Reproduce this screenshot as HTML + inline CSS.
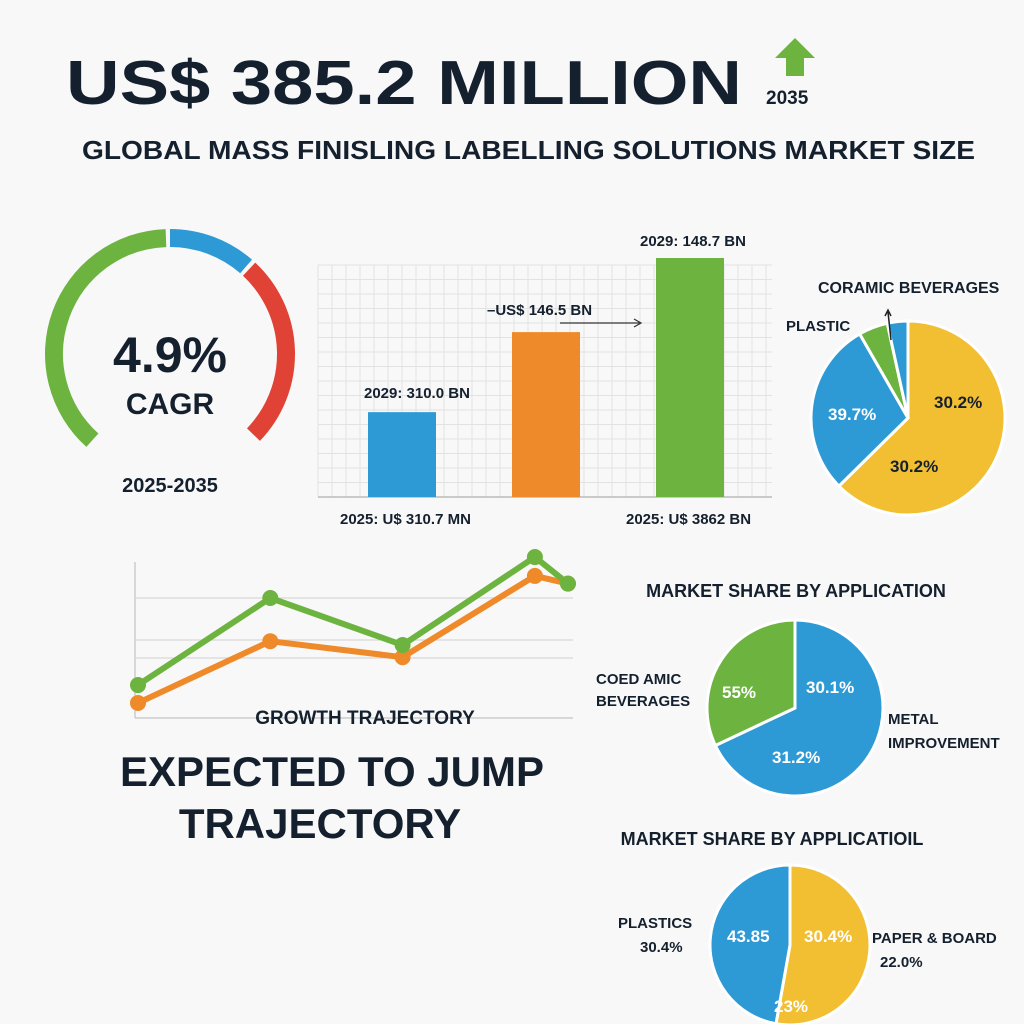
<!DOCTYPE html>
<html><head><meta charset="utf-8"><style>
body{margin:0;background:#f8f8f8;}
svg{display:block;font-family:"Liberation Sans",sans-serif;font-weight:bold;}
</style></head><body>
<svg id="c" width="1024" height="1024" viewBox="0 0 1024 1024">
<rect width="1024" height="1024" fill="#f8f8f8"/>
<text x="66" y="104" font-size="62" fill="#15202e" textLength="676" lengthAdjust="spacingAndGlyphs">US$ 385.2 MILLION</text>
<path d="M795 38 L815 58 L804 58 L804 76 L786 76 L786 58 L775 58 Z" fill="#6db33f"/>
<text x="766" y="104" font-size="19" fill="#15202e">2035</text>
<text x="82" y="159" font-size="26" fill="#15202e" textLength="893" lengthAdjust="spacingAndGlyphs">GLOBAL MASS FINISLING LABELLING SOLUTIONS MARKET SIZE</text>

<g id="gauge"></g>
<text x="170" y="372" font-size="50" text-anchor="middle" fill="#15202e">4.9%</text>
<text x="170" y="414" font-size="30" text-anchor="middle" fill="#15202e">CAGR</text>
<text x="170" y="492" font-size="20" text-anchor="middle" fill="#15202e">2025-2035</text>

<g id="bars"></g>
<text x="364" y="398" font-size="15" fill="#15202e">2029: 310.0 BN</text>
<text x="487" y="315" font-size="15" fill="#15202e">–US$ 146.5 BN</text>
<path d="M560 323 L640 323 M634 319 L641 323 L634 327" stroke="#333" stroke-width="1.2" fill="none"/>
<text x="640" y="246" font-size="15" fill="#15202e">2029: 148.7 BN</text>
<text x="340" y="524" font-size="15" fill="#15202e">2025: U$ 310.7 MN</text>
<text x="626" y="524" font-size="15" fill="#15202e">2025: U$ 3862 BN</text>

<g id="pie1"></g>
<text x="818" y="293" font-size="16" fill="#15202e">CORAMIC BEVERAGES</text>
<text x="786" y="331" font-size="15" fill="#15202e">PLASTIC</text>
<path d="M891 340 L888 312 M885 316 L888 310 L891 316" stroke="#222" stroke-width="1.5" fill="none"/>
<text x="934" y="408" font-size="17" fill="#15202e">30.2%</text>
<text x="890" y="472" font-size="17" fill="#15202e">30.2%</text>
<text x="828" y="420" font-size="17" fill="#fff">39.7%</text>

<g id="lines"></g>
<text x="365" y="724" font-size="19" text-anchor="middle" fill="#15202e">GROWTH TRAJECTORY</text>
<text x="332" y="786" font-size="42" text-anchor="middle" fill="#15202e">EXPECTED TO JUMP</text>
<text x="320" y="838" font-size="42" text-anchor="middle" fill="#15202e">TRAJECTORY</text>

<text x="796" y="597" font-size="18" text-anchor="middle" fill="#15202e">MARKET SHARE BY APPLICATION</text>
<g id="pie2"></g>
<text x="596" y="684" font-size="15" fill="#15202e">COED AMIC</text>
<text x="596" y="706" font-size="15" fill="#15202e">BEVERAGES</text>
<text x="722" y="698" font-size="17" fill="#fff">55%</text>
<text x="806" y="693" font-size="17" fill="#fff">30.1%</text>
<text x="772" y="763" font-size="17" fill="#fff">31.2%</text>
<text x="888" y="724" font-size="15" fill="#15202e">METAL</text>
<text x="888" y="748" font-size="15" fill="#15202e">IMPROVEMENT</text>

<text x="772" y="845" font-size="18" text-anchor="middle" fill="#15202e">MARKET SHARE BY APPLICATIOIL</text>
<g id="pie3"></g>
<text x="618" y="928" font-size="15" fill="#15202e">PLASTICS</text>
<text x="640" y="952" font-size="15" fill="#15202e">30.4%</text>
<text x="727" y="942" font-size="17" fill="#fff">43.85</text>
<text x="804" y="942" font-size="17" fill="#fff">30.4%</text>
<text x="774" y="1012" font-size="17" fill="#fff">23%</text>
<text x="872" y="943" font-size="15" fill="#15202e">PAPER &amp; BOARD</text>
<text x="880" y="967" font-size="15" fill="#15202e">22.0%</text>
</svg>
<script>
const NS="http://www.w3.org/2000/svg";
const gaugeSegs=[138,43,93];
const gaugeColors=["#6db33f","#2d9ad6","#e04336"];
const barCats=["2025","2029a","2029b"];
const barValues=[35.5,69,100];
const barColors=["#2d9ad6","#ef8a2b","#6db33f"];
const lineX=[0,1,2,3,3.25];
const greenVals=[20.6,75,45.6,100.6,84];
const orangeVals=[9.4,48,38,88.8,84];
const pie1Vals=[60.3,28,4.7,3.3];
const pie1Colors=["#f2bf32","#2d9ad6","#6db33f","#2d9ad6"];
const pie2Vals=[68,32];
const pie2Colors=["#2d9ad6","#6db33f"];
const pie3Vals=[52.8,47.2];
const pie3Colors=["#f2bf32","#2d9ad6"];

function el(t,a,p){const e=document.createElementNS(NS,t);for(const k in a)e.setAttribute(k,a[k]);p.appendChild(e);return e;}
function pt(cx,cy,r,deg){const a=(deg-90)*Math.PI/180;return [cx+r*Math.cos(a),cy+r*Math.sin(a)];}
// gauge
(function(){const g=document.getElementById('gauge');let start=221;
gaugeSegs.forEach((s,i)=>{const a0=start+1,a1=start+s-1;const p0=pt(170,354,116,a0),p1=pt(170,354,116,a1);
const p=el('path',{d:`M${p0[0]} ${p0[1]} A116 116 0 ${s>180?1:0} 1 ${p1[0]} ${p1[1]}`,stroke:gaugeColors[i],'stroke-width':18,fill:'none'},g);


start+=s;});})();
// bars
(function(){const g=document.getElementById('bars');const x0=318,x1=772,yb=497,yt=258;
for(let x=x0;x<=x1;x+=14)el('line',{x1:x,y1:265,x2:x,y2:yb,stroke:'#e2e2e2','stroke-width':1},g);
for(let y=yb;y>=265;y-=14.5)el('line',{x1:x0,y1:y,x2:x1,y2:y,stroke:'#e2e2e2','stroke-width':1},g);
el('line',{x1:x0,y1:yb,x2:x1,y2:yb,stroke:'#bbb','stroke-width':1.5},g);
const ys=v=>yb-(v/100)*(yb-yt);
barValues.forEach((v,i)=>{const bx=368+i*144;const r=el('rect',{x:bx,y:ys(v),width:68,height:yb-ys(v),fill:barColors[i]},g);

});})();
// lines
(function(){const g=document.getElementById('lines');const X=i=>138+i*132.3,Y=v=>718-v*1.6;
el('line',{x1:135,y1:562,x2:135,y2:718,stroke:'#ccc','stroke-width':1.5},g);
el('line',{x1:135,y1:718,x2:573,y2:718,stroke:'#ccc','stroke-width':1.5},g);
[598,640,658].forEach(y=>el('line',{x1:135,y1:y,x2:573,y2:y,stroke:'#d8d8d8','stroke-width':1.2},g));
[[orangeVals,'#ef8a2b','orange'],[greenVals,'#6db33f','green']].forEach(([vals,c,n])=>{
const l=el('polyline',{points:vals.map((v,i)=>X(lineX[i])+','+Y(v)).join(' '),stroke:c,'stroke-width':6,fill:'none','stroke-linejoin':'round'},g);


vals.forEach((v,i)=>{const d=el('circle',{cx:X(lineX[i]),cy:Y(v),r:8,fill:c},g);

});});})();
// pies
function pie(id,cx,cy,r,vals,cols){const g=document.getElementById(id);const tot=vals.reduce((a,b)=>a+b,0);let a=0;
vals.forEach((v,i)=>{const s=v/tot*360;const p0=pt(cx,cy,r,a),p1=pt(cx,cy,r,a+s);
const p=el('path',{d:`M${cx} ${cy} L${p0[0]} ${p0[1]} A${r} ${r} 0 ${s>180?1:0} 1 ${p1[0]} ${p1[1]} Z`,fill:cols[i],stroke:'#fff','stroke-width':3},g);

a+=s;});}
pie('pie1',908,418,97,pie1Vals,pie1Colors);
pie('pie2',795,708,88,pie2Vals,pie2Colors);
pie('pie3',790,945,80,pie3Vals,pie3Colors);
</script>
</body></html>
